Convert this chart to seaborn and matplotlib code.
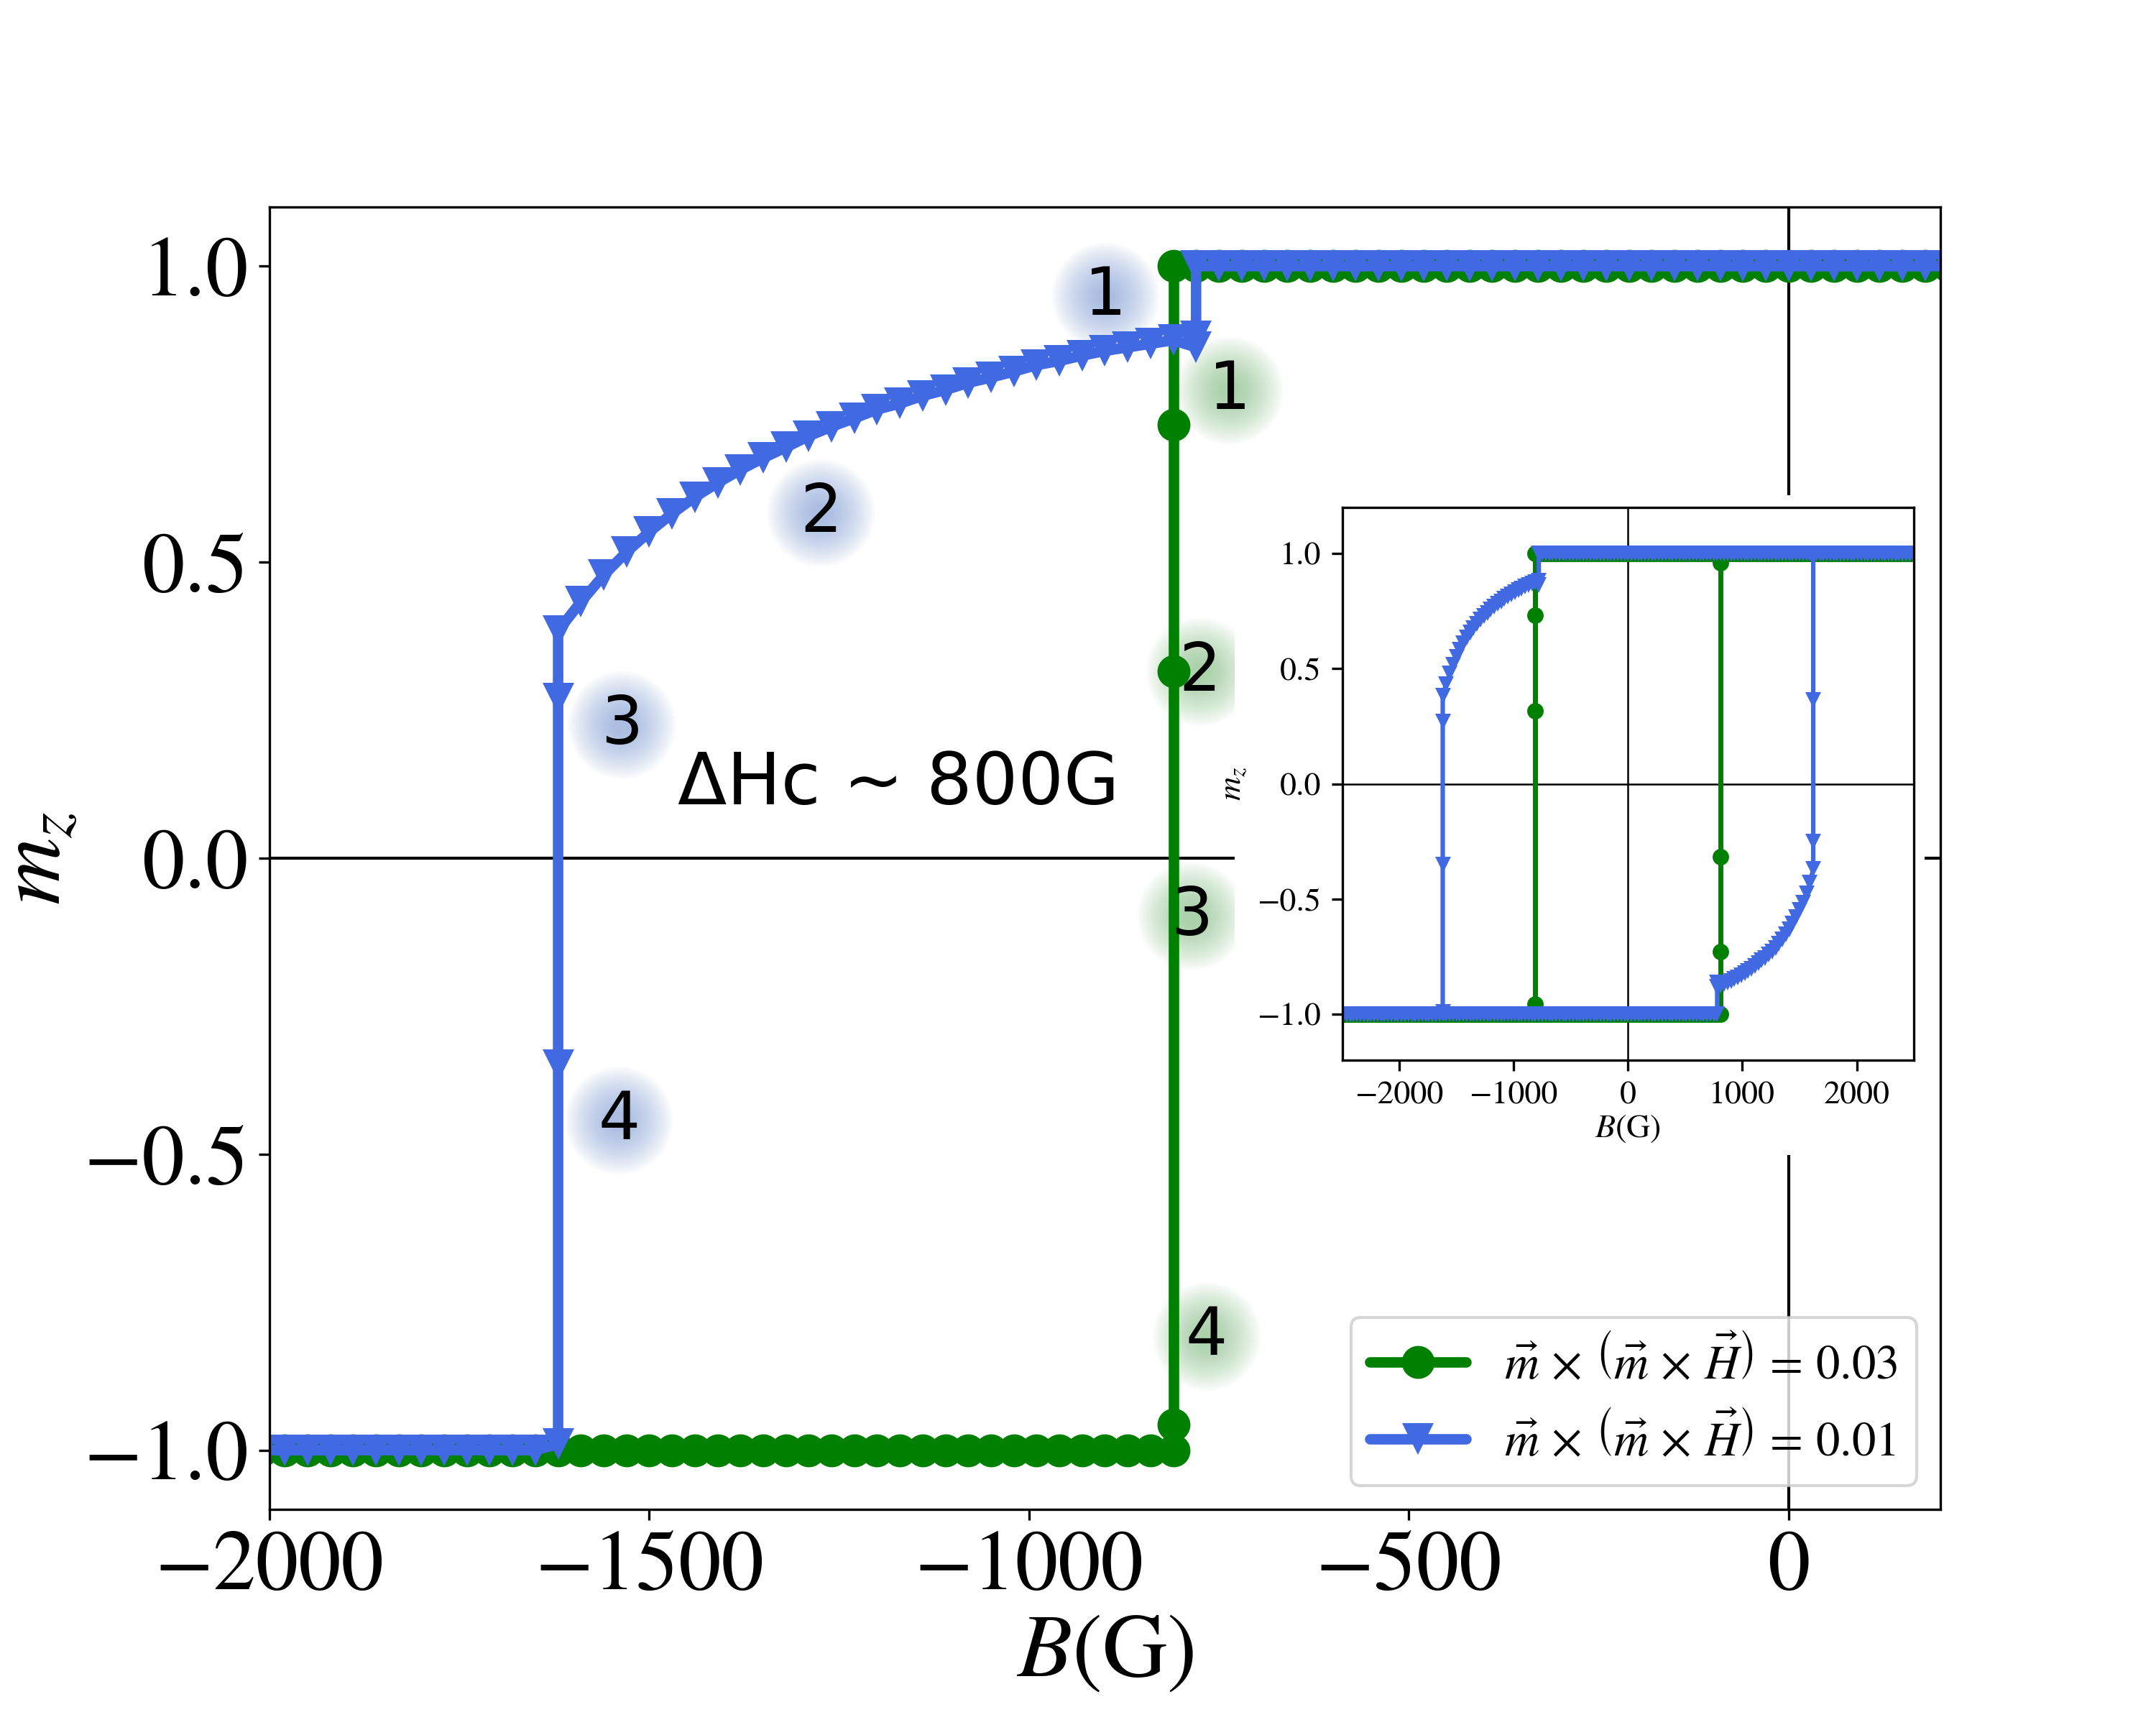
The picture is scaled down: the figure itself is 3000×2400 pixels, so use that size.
import numpy as np
import matplotlib
matplotlib.use("Agg")
import matplotlib.pyplot as plt
import seaborn as sns

# applied field sweep grid (G)
field_grid = np.arange(-2490, 2491, 30)

# damping 0.03 (green): switching at -810 G on the way down, +810 G on the way up
green_down_switch_B = [-810, -810, -810, -810]
green_down_switch_m = [0.732, 0.316, -0.957, -1.0]
green_up_switch_B = [810, 810, 810, 810]
green_up_switch_m = [-0.73, -0.317, 0.96, 1.0]

# damping 0.01 (blue): gradual rotation then switching at -1620 G / +1620 G
blue_down_curve_B = [-780, -780, -810, -840, -870, -900, -930, -960, -990, -1020,
                     -1050, -1080, -1110, -1140, -1170, -1200, -1230, -1260, -1290,
                     -1320, -1350, -1380, -1410, -1440, -1470, -1500, -1530, -1560,
                     -1590, -1620, -1620, -1620, -1620]
blue_down_curve_m = [0.881, 0.863, 0.875, 0.869, 0.863, 0.857, 0.849, 0.840, 0.833, 0.822,
                     0.812, 0.803, 0.791, 0.781, 0.768, 0.758, 0.743, 0.729, 0.713,
                     0.694, 0.676, 0.656, 0.634, 0.610, 0.582, 0.551, 0.517, 0.478,
                     0.433, 0.384, 0.27, -0.35, -0.99]
blue_up_curve_B = [780, 780, 810, 840, 870, 900, 930, 960, 990, 1020,
                   1050, 1080, 1110, 1140, 1170, 1200, 1230, 1260, 1290,
                   1320, 1350, 1380, 1410, 1440, 1470, 1500, 1530, 1560,
                   1590, 1620, 1620, 1620, 1620]
blue_up_curve_m = [-0.88, -0.862, -0.874, -0.868, -0.862, -0.856, -0.848, -0.84, -0.832, -0.822,
                   -0.812, -0.802, -0.79, -0.78, -0.767, -0.756, -0.742, -0.728, -0.712,
                   -0.693, -0.675, -0.655, -0.633, -0.608, -0.58, -0.549, -0.515, -0.475,
                   -0.43, -0.37, -0.25, 0.365, 0.99]

labels = [r"$\vec{m}\,\times\,\left(\vec{m}\,\times\,\vec{H}\right)\,=\,0.03$",
          r"$\vec{m}\,\times\,\left(\vec{m}\,\times\,\vec{H}\right)\,=\,0.01$"]

blue_tags = [("1", -899, 0.949), ("2", -1274, 0.583), ("3", -1536, 0.225), ("4", -1540, -0.443)]
green_tags = [("1", -736, 0.79), ("2", -775, 0.315), ("3", -786, -0.098), ("4", -766, -0.808)]

GREEN = "green"
BLUE = "royalblue"


def sweep(top_until, switch_B, switch_m, bottom_from, down=True):
    """one sweep branch: flat part, switching points, flat part"""
    if down:
        g = field_grid[::-1]
        first = g[g >= top_until]
        last = g[g < bottom_from]
        B = list(first) + list(switch_B) + list(last)
        m = [1.0] * len(first) + list(switch_m) + [-1.0] * len(last)
    else:
        g = field_grid
        first = g[g <= top_until]
        last = g[g > bottom_from]
        B = list(first) + list(switch_B) + list(last)
        m = [-1.0] * len(first) + list(switch_m) + [1.0] * len(last)
    return B, m


gd_B, gd_m = sweep(-810, green_down_switch_B, green_down_switch_m, -810, down=True)
gu_B, gu_m = sweep(810, green_up_switch_B, green_up_switch_m, 810, down=False)
bd_B, bd_m = sweep(-780, blue_down_curve_B, blue_down_curve_m, -1620, down=True)
bu_B, bu_m = sweep(780, blue_up_curve_B, blue_up_curve_m, 1620, down=False)

sns.set_style("ticks", {"axes.edgecolor": "black", "xtick.color": "black",
                        "ytick.color": "black", "text.color": "black",
                        "axes.labelcolor": "black"})
plt.rcParams["font.family"] = ["STIXGeneral", "DejaVu Sans"]
plt.rcParams["mathtext.fontset"] = "stix"

fig = plt.figure(figsize=(10, 8), dpi=300)
ax = fig.add_axes([0.125, 0.125, 0.775, 0.755])

ax.axhline(0, color="black", lw=1.0, zorder=1)
ax.axvline(0, color="black", lw=1.0, zorder=1)

sns.lineplot(x=gd_B, y=gd_m, ax=ax, sort=False, estimator=None, color=GREEN,
             marker="o", markersize=11, linewidth=3.5, markeredgecolor=GREEN,
             markeredgewidth=0, label=labels[0], zorder=2)
sns.lineplot(x=bd_B, y=bd_m, ax=ax, sort=False, estimator=None, color=BLUE,
             marker="v", markersize=10.5, linewidth=3.5, markeredgecolor=BLUE,
             markeredgewidth=0, label=labels[1], zorder=2.1)

ax.set_xlim(-2000, 200)
ax.set_ylim(-1.1, 1.1)
ax.set_xticks([-2000, -1500, -1000, -500, 0])
ax.set_yticks([-1.0, -0.5, 0.0, 0.5, 1.0])
ax.tick_params(labelsize=28.5)
ax.set_xlabel(r"$B(\mathrm{G})$", fontsize=30, labelpad=2)
ax.set_ylabel(r"$m_z$", fontsize=31, labelpad=1)


def glow(x, y, color, n=25, rmax=18.0, rmin=3.0, alpha=0.034):
    radii = np.linspace(rmax, rmin, n)
    ax.scatter([x] * n, [y] * n, s=(2 * radii) ** 2, color=color, alpha=alpha,
               linewidths=0, zorder=1.5)


for txt, x, y in blue_tags:
    glow(x, y, "#7f9fd9")
    ax.text(x, y, txt, fontsize=22, family="DejaVu Sans", ha="center", va="center", zorder=6)
for txt, x, y in green_tags:
    glow(x, y, "#7fbf7f")
    ax.text(x, y, txt, fontsize=22, family="DejaVu Sans", ha="center", va="center", zorder=6)

ax.text(-1172, 0.125, "ΔHc ~ 800G", fontsize=24, family="DejaVu Sans",
        ha="center", va="center", zorder=6)

ax.legend(loc="lower right", fontsize=16, framealpha=0.8, edgecolor="0.8")

# white backdrop behind the inset (covers its tick labels area)
bg = fig.add_axes([0.5727, 0.3304, 0.32, 0.3825])
bg.set_facecolor("white")
bg.set_xticks([])
bg.set_yticks([])
for s in bg.spines.values():
    s.set_visible(False)

ins = fig.add_axes([0.6225, 0.3854, 0.2652, 0.3204])
ins.axhline(0, color="black", lw=0.6, zorder=1)
ins.axvline(0, color="black", lw=0.6, zorder=1)
sns.lineplot(x=gd_B + gu_B, y=gd_m + gu_m, ax=ins, sort=False, estimator=None,
             color=GREEN, marker="o", markersize=5.5, linewidth=1.7,
             markeredgecolor=GREEN, markeredgewidth=0, legend=False, zorder=2)
sns.lineplot(x=bd_B + bu_B, y=bd_m + bu_m, ax=ins, sort=False, estimator=None,
             color=BLUE, marker="v", markersize=5.5, linewidth=1.5,
             markeredgecolor=BLUE, markeredgewidth=0, legend=False, zorder=2.1)
ins.set_xlim(-2500, 2500)
ins.set_ylim(-1.2, 1.2)
ins.set_xticks([-2000, -1000, 0, 1000, 2000])
ins.set_yticks([-1.0, -0.5, 0.0, 0.5, 1.0])
ins.tick_params(labelsize=11)
ins.set_xlabel(r"$B(\mathrm{G})$", fontsize=11, labelpad=1)
ins.set_ylabel(r"$m_z$", fontsize=11, labelpad=3)

fig.savefig("out.png", dpi=300)
